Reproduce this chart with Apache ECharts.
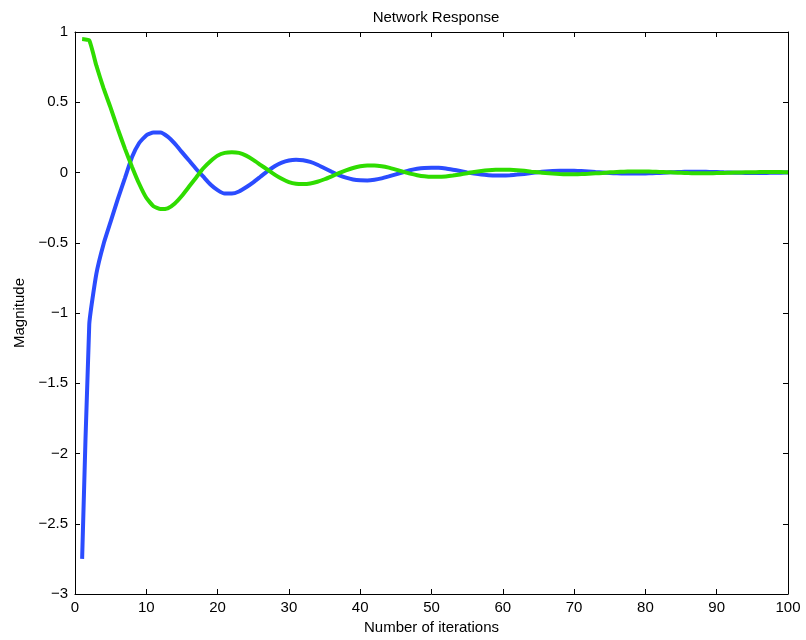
<!DOCTYPE html>
<html>
<head>
<meta charset="utf-8">
<title>Network Response</title>
<script src="https://cdn.jsdelivr.net/npm/echarts@6/dist/echarts.min.js"></script>
<style>
  html, body { margin: 0; padding: 0; background: #fff; }
  #chart1 { width: 806px; height: 640px; }
</style>
</head>
<body>
<div id="chart1"></div>
<script>
const iterations = [
  1, 2, 3, 4, 5, 6, 7, 8, 9, 10,
  11, 12, 13, 14, 15, 16, 17, 18, 19, 20,
  21, 22, 23, 24, 25, 26, 27, 28, 29, 30,
  31, 32, 33, 34, 35, 36, 37, 38, 39, 40,
  41, 42, 43, 44, 45, 46, 47, 48, 49, 50,
  51, 52, 53, 54, 55, 56, 57, 58, 59, 60,
  61, 62, 63, 64, 65, 66, 67, 68, 69, 70,
  71, 72, 73, 74, 75, 76, 77, 78, 79, 80,
  81, 82, 83, 84, 85, 86, 87, 88, 89, 90,
  91, 92, 93, 94, 95, 96, 97, 98, 99, 100
];

// blue curve
const blueValues = [
  -2.75, -1.08, -0.72, -0.51, -0.35, -0.19, -0.04, 0.11, 0.21, 0.265,
  0.285, 0.285, 0.255, 0.205, 0.145, 0.085, 0.025, -0.03, -0.085, -0.125,
  -0.15, -0.15, -0.135, -0.105, -0.07, -0.03, 0.01, 0.045, 0.07, 0.085,
  0.09, 0.087, 0.075, 0.055, 0.03, 0.005, -0.018, -0.037, -0.05, -0.056,
  -0.057, -0.052, -0.042, -0.028, -0.013, 0.002, 0.016, 0.026, 0.032, 0.034,
  0.033, 0.028, 0.02, 0.011, 0.001, -0.008, -0.015, -0.019, -0.021, -0.021,
  -0.019, -0.015, -0.01, -0.004, 0.002, 0.007, 0.011, 0.013, 0.013, 0.012,
  0.01, 0.007, 0.003, 0, -0.003, -0.006, -0.008, -0.008, -0.008, -0.007,
  -0.005, -0.003, 0, 0.002, 0.004, 0.005, 0.005, 0.005, 0.004, 0.003,
  0.001, 0, -0.002, -0.003, -0.003, -0.003, -0.003, -0.002, -0.001, 0
];

// green curve
const greenValues = [
  0.95, 0.94, 0.76, 0.60, 0.46, 0.31, 0.17, 0.04, -0.08, -0.18,
  -0.24, -0.26, -0.255, -0.22, -0.165, -0.10, -0.035, 0.03, 0.08, 0.12,
  0.14, 0.145, 0.14, 0.12, 0.09, 0.055, 0.02, -0.015, -0.045, -0.068,
  -0.08, -0.082, -0.078, -0.066, -0.048, -0.027, -0.005, 0.015, 0.032, 0.044,
  0.05, 0.05, 0.045, 0.035, 0.021, 0.006, -0.008, -0.019, -0.027, -0.031,
  -0.031, -0.028, -0.022, -0.014, -0.005, 0.004, 0.011, 0.016, 0.019, 0.02,
  0.019, 0.016, 0.012, 0.006, 0.001, -0.004, -0.008, -0.011, -0.012, -0.012,
  -0.011, -0.009, -0.006, -0.003, 0.001, 0.004, 0.006, 0.007, 0.008, 0.007,
  0.006, 0.004, 0.002, 0, -0.002, -0.004, -0.005, -0.005, -0.005, -0.004,
  -0.003, -0.001, 0, 0.001, 0.002, 0.003, 0.003, 0.003, 0.003, 0.002
];

const xTicks = [0, 10, 20, 30, 40, 50, 60, 70, 80, 90, 100];
const yTicks = [-3, -2.5, -2, -1.5, -1, -0.5, 0, 0.5, 1];

const FONT = "'Liberation Sans', Arial, Helvetica, sans-serif";
const FS = 15;

const pairs = (values) => iterations.map((x, i) => [x, values[i]]);

const fmtY = (v) => (v < 0 ? "\u2212" + String(-v) : String(v));

const boxAxis = (type, position, show) => {
  const ax = {
    type: "value",
    position: position,
    axisLine: { show: true, onZero: false, lineStyle: { color: "#000", width: 1 } },
    axisTick: { show: true, inside: true, length: 5, lineStyle: { color: "#000" } },
    axisLabel: { show: show, color: "#000", fontFamily: FONT, fontSize: FS },
    splitLine: { show: false },
  };
  if (type === "x") {
    ax.min = xTicks[0];
    ax.max = xTicks[xTicks.length - 1];
    ax.interval = xTicks[1] - xTicks[0];
  } else {
    ax.min = yTicks[0];
    ax.max = yTicks[yTicks.length - 1];
    ax.interval = yTicks[1] - yTicks[0];
  }
  return ax;
};

const getOptionChart1 = () => {
  const xBottom = boxAxis("x", "bottom", true);
  xBottom.name = "Number of iterations";
  xBottom.nameLocation = "middle";
  xBottom.nameGap = 26;
  xBottom.nameTextStyle = { color: "#000", fontFamily: FONT, fontSize: FS };
  xBottom.axisLabel.margin = 6;

  const yLeft = boxAxis("y", "left", true);
  yLeft.name = "Magnitude";
  yLeft.nameLocation = "middle";
  yLeft.nameGap = 43;
  yLeft.nameTextStyle = { color: "#000", fontFamily: FONT, fontSize: FS };
  yLeft.axisLabel.formatter = fmtY;
  yLeft.axisLabel.margin = 7;

  return {
    animation: false,
    backgroundColor: "#fff",
    title: {
      text: "Network Response",
      left: 431,
      top: 5,
      textAlign: "center",
      textStyle: { color: "#000", fontFamily: FONT, fontSize: FS, fontWeight: "normal" },
    },
    grid: {
      left: 75,
      right: 18,
      top: 32,
      bottom: 46,
    },
    xAxis: [xBottom, boxAxis("x", "top", false)],
    yAxis: [yLeft, boxAxis("y", "right", false)],
    series: [
      {
        name: "Blue",
        type: "line",
        data: pairs(blueValues),
        showSymbol: false,
        smooth: 0.15,
        lineStyle: { color: "#2b4cff", width: 4 },
        itemStyle: { color: "#2b4cff" },
      },
      {
        name: "Green",
        type: "line",
        data: pairs(greenValues),
        showSymbol: false,
        smooth: 0.15,
        lineStyle: { color: "#2fdc00", width: 4 },
        itemStyle: { color: "#2fdc00" },
      },
    ],
  };
};

const initCharts = () => {
  const chart1 = echarts.init(document.getElementById("chart1"));
  chart1.setOption(getOptionChart1());
};

window.addEventListener("load", () => {
  initCharts();
});
</script>
</body>
</html>
